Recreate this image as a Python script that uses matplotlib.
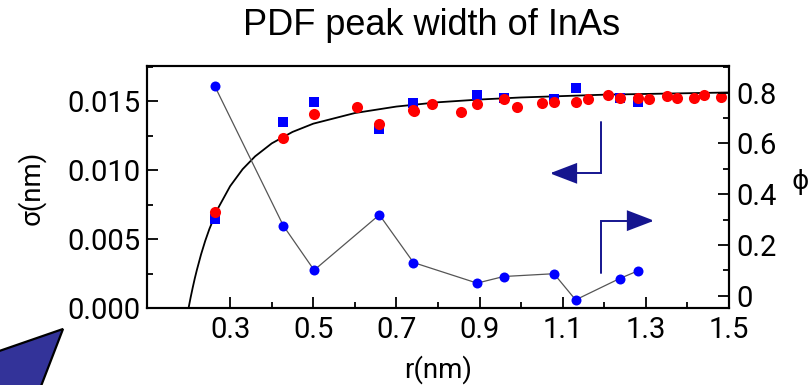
import matplotlib
matplotlib.use("Agg")
import matplotlib.pyplot as plt
from matplotlib.patches import Polygon, FancyArrowPatch, ArrowStyle
from matplotlib.path import Path
from matplotlib.ticker import FixedLocator, MultipleLocator

# ---- data ----
r_sigma_red = [0.263, 0.428, 0.502, 0.606, 0.659, 0.741, 0.742, 0.786, 0.856, 0.894,
               0.958, 0.991, 1.049, 1.079, 1.131, 1.162, 1.209, 1.237, 1.282, 1.308,
               1.352, 1.376, 1.416, 1.440, 1.481]
sigma_red = [0.00693, 0.01232, 0.01408, 0.01459, 0.01333, 0.01432, 0.01428, 0.01480,
             0.01423, 0.01480, 0.01512, 0.01454, 0.01483, 0.01495, 0.01493, 0.01514,
             0.01541, 0.01524, 0.01520, 0.01514, 0.01534, 0.01520, 0.01520, 0.01546,
             0.01531]

r_sigma_blue = [0.263, 0.428, 0.502, 0.659, 0.741, 0.894, 0.958, 1.079, 1.131, 1.237, 1.282]
sigma_blue = [0.00643, 0.01348, 0.01495, 0.01295, 0.01483, 0.01543, 0.01524, 0.01512,
              0.01597, 0.01524, 0.01495]

r_phi = [0.263, 0.428, 0.502, 0.659, 0.741, 0.894, 0.958, 1.079, 1.131, 1.237, 1.282]
phi = [0.826, 0.276, 0.101, 0.319, 0.131, 0.050, 0.076, 0.087, -0.016, 0.068, 0.099]

r_fit = [0.200, 0.205, 0.210, 0.215, 0.220, 0.230, 0.240, 0.250, 0.270, 0.300, 0.330,
         0.360, 0.400, 0.450, 0.500, 0.600, 0.700, 0.800, 0.900, 1.000, 1.200, 1.500]
sigma_fit = [0.0, 0.00077, 0.00148, 0.00215, 0.00276, 0.00388, 0.00486, 0.00572,
             0.00718, 0.00883, 0.01006, 0.01099, 0.01193, 0.01276, 0.01336, 0.01413,
             0.01460, 0.01491, 0.01511, 0.01526, 0.01546, 0.01562]

x_major = [0.3, 0.5, 0.7, 0.9, 1.1, 1.3, 1.5]
x_major_labels = ["0.3", "0.5", "0.7", "0.9", "1.1", "1.3", "1.5"]
x_minor = [0.4, 0.6, 0.8, 1.0, 1.2, 1.4]
y_left_major = [0.000, 0.005, 0.010, 0.015]
y_left_labels = ["0.000", "0.005", "0.010", "0.015"]
y_right_major = [0.0, 0.2, 0.4, 0.6, 0.8]
y_right_labels = ["0", "0.2", "0.4", "0.6", "0.8"]

title = "PDF peak width of InAs"
xlabel = "r(nm)"
ylabel_left = "σ(nm)"
ylabel_right = "ϕ"

# ---- figure ----
plt.rcParams['font.family'] = ['Roboto', 'DejaVu Sans']
fig = plt.figure(figsize=(8.09, 3.85), dpi=100)
fig.patch.set_facecolor('white')
ax = fig.add_axes([0.1817, 0.2, 0.9011 - 0.1817, 0.8286 - 0.2])
ax2 = ax.twinx()

ax.set_xlim(0.1, 1.5)
ax.set_ylim(0.0, 0.01754)
ax2.set_ylim(-0.048, 0.905)

# fit curve and sigma data on left axis
ax.plot(r_fit, sigma_fit, color='black', lw=1.3, zorder=2)
ax.plot(r_sigma_blue, sigma_blue, ls='none', marker='s', ms=7.2,
        mfc='#0000ff', mec='#0000ff', mew=0, zorder=3)
ax.plot(r_sigma_red, sigma_red, ls='none', marker='o', ms=8.0,
        mfc='#ff0000', mec='#ff0000', mew=0, zorder=4)

# phi on right axis
ax2.plot(r_phi, phi, color='#555555', lw=0.9, zorder=2)
ax2.plot(r_phi, phi, ls='none', marker='o', ms=7.2, mfc='#0000ff', mec='#0000ff',
         mew=0, zorder=3)

# ticks
ax.xaxis.set_major_locator(FixedLocator(x_major))
ax.set_xticklabels(x_major_labels)
ax.xaxis.set_minor_locator(FixedLocator(x_minor))
ax.yaxis.set_major_locator(FixedLocator(y_left_major))
ax.set_yticklabels(y_left_labels)
ax.yaxis.set_minor_locator(MultipleLocator(0.0025))
ax2.yaxis.set_major_locator(FixedLocator(y_right_major))
ax2.set_yticklabels(y_right_labels)
ax2.yaxis.set_minor_locator(MultipleLocator(0.1))

for a in (ax, ax2):
    for s in a.spines.values():
        s.set_linewidth(1.5)
        s.set_color('black')
ax.tick_params(axis='both', which='major', direction='in', length=8, width=1.3,
               labelsize=21, pad=5, colors='black')
ax.tick_params(axis='both', which='minor', direction='in', length=4.5, width=1.3)
ax.tick_params(axis='y', right=False)
ax.tick_params(axis='x', top=False, which='both')
ax2.tick_params(axis='y', which='major', direction='in', length=8, width=1.3,
                labelsize=21, pad=5)
ax2.tick_params(axis='y', which='minor', direction='in', length=4.5, width=1.3)
ax.tick_params(axis='x', pad=6)

# labels
fig.text(0.533, 0.935, title, ha='center', va='center', fontsize=26,
         family=['Liberation Sans', 'DejaVu Sans'])
fig.text(0.541, 0.040, xlabel, ha='center', va='center', fontsize=20)
fig.text(0.038, 0.512, ylabel_left, ha='center', va='center', fontsize=20, rotation=90)
fig.text(0.989, 0.527, ylabel_right, ha='center', va='center', fontsize=19,
         family=['DejaVu Sans'])

# annotation arrows (in data coords of left axis)
navy = '#15158f'
style = ArrowStyle('-|>', head_length=17, head_width=6.5)
arr1 = FancyArrowPatch(path=Path([(1.193, 0.0135), (1.193, 0.00976), (1.069, 0.00976)]),
                       arrowstyle=style, mutation_scale=1, color=navy, lw=1.4,
                       transform=ax.transData, zorder=5)
arr2 = FancyArrowPatch(path=Path([(1.1916, 0.00251), (1.1916, 0.00633), (1.32, 0.00633)]),
                       arrowstyle=style, mutation_scale=1, color=navy, lw=1.4,
                       transform=ax.transData, zorder=5)
ax.add_patch(arr1)
ax.add_patch(arr2)
for p in (arr1, arr2):
    p.set_joinstyle('miter')

# decorative polygon lower-left
poly = Polygon([(-0.01, 0.0857 - 0.004), (0.0779, 0.1455), (0.0494, -0.01), (-0.01, -0.01)],
               closed=True, transform=fig.transFigure, facecolor='#333399',
               edgecolor='black', lw=1.6)
fig.patches.append(poly)

fig.savefig('out.png', dpi=100, facecolor='white')
